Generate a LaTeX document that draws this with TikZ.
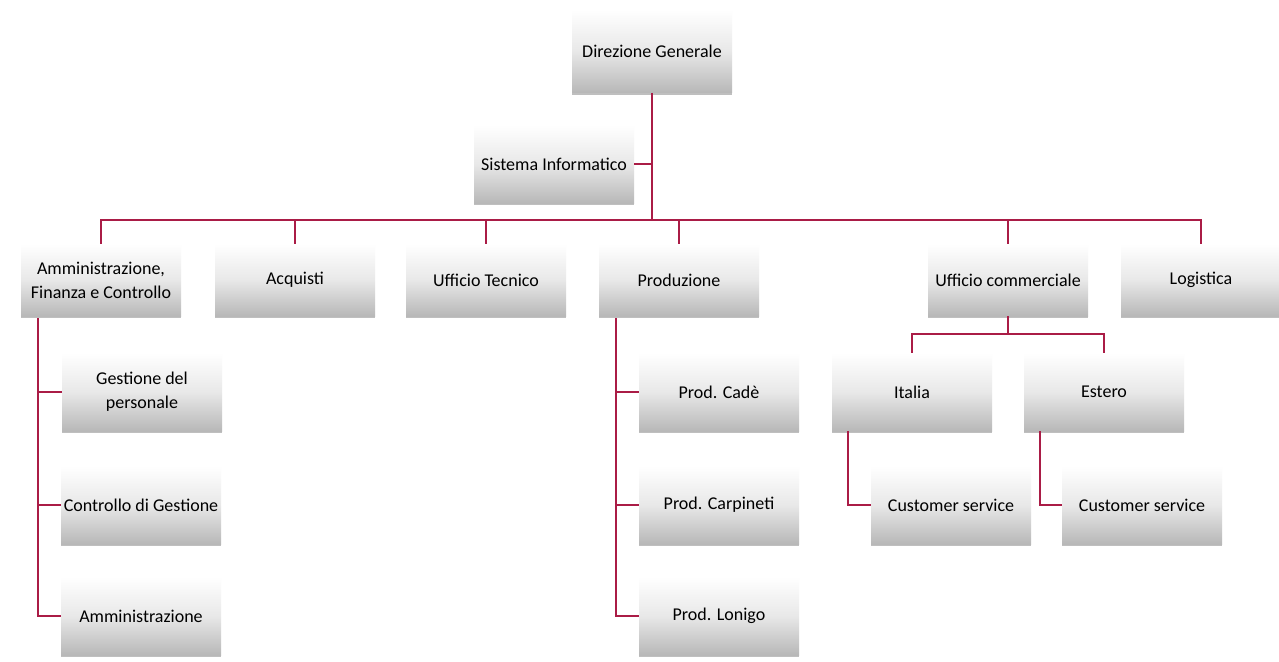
\documentclass[tikz,border=0pt]{standalone}
\usepackage{fontspec}
\setmainfont{Carlito}
\usetikzlibrary{shadows,calc}
\definecolor{linecol}{RGB}{170,28,70}
\tikzset{
  x=1pt, y=-1pt,
  box/.style={minimum width=160pt, minimum height=78pt, inner sep=2pt,
    align=center, font=\fontsize{18}{24}\selectfont,
    top color=white, bottom color=black!28, middle color=black!9,
    drop shadow={shadow xshift=0pt, shadow yshift=-2pt, opacity=0.25, fill=black}},
  rowbox/.style={box, minimum height=72pt},
  conn/.style={draw=linecol, line width=2.8pt}
}
\begin{document}
\begin{tikzpicture}
\fill[white] (0,0) rectangle (1279,661);
\useasboundingbox (0,0) rectangle (1279,661);
% top
\node[box, minimum height=83pt] (dg) at (652,51) {Direzione Generale};
\node[box] (si) at (554,164) {Sistema Informatico};
% row 1
\node[rowbox] (afc) at (101,280) {Amministrazione,\\Finanza e Controllo};
\node[rowbox] (acq) at (295,280) {Acquisti};
\node[rowbox] (ut) at (486,280) {Ufficio Tecnico};
\node[rowbox] (prod) at (679,280) {Produzione};
\node[rowbox] (uc) at (1008,280) {Ufficio commerciale};
\node[rowbox] (log) at (1201,280) {Logistica};
% AFC children
\node[box] (gp) at (142,392) {Gestione del\\personale};
\node[box] (cg) at (141,505) {Controllo di Gestione};
\node[box] (am) at (141,616) {Amministrazione};
% Produzione children
\node[box] (pc) at (719,392) {Prod. Cadè};
\node[box] (pca) at (719,505) {Prod. Carpineti};
\node[box] (pl) at (719,616) {Prod. Lonigo};
% Commerciale children
\node[box] (it) at (912,392) {Italia};
\node[box] (es) at (1104,392) {Estero};
\node[box] (cs1) at (951,505) {Customer service};
\node[box] (cs2) at (1142,505) {Customer service};
% connectors
\coordinate (bar) at (652,220);
\draw[conn] (dg.south) -- (bar);
\draw[conn] (si.east) -- (si.east -| bar);
\draw[conn] (afc.north) |- (bar);
\draw[conn] (log.north) |- (bar);
\foreach \n in {acq,ut,prod,uc} \draw[conn] (\n.north) -- (\n.north |- bar);
\coordinate (afcv) at (38,318);
\draw[conn] (afcv) |- (gp.west);
\draw[conn] (afcv) |- (cg.west);
\draw[conn] (afcv) |- (am.west);
\coordinate (prodv) at (616,318);
\draw[conn] (prodv) |- (pc.west);
\draw[conn] (prodv) |- (pca.west);
\draw[conn] (prodv) |- (pl.west);
\coordinate (ucbar) at (1008,334);
\draw[conn] (uc.south) -- (ucbar);
\draw[conn] (it.north) |- (ucbar);
\draw[conn] (es.north) |- (ucbar);
\coordinate (itv) at (848,431);
\coordinate (esv) at (1040,431);
\draw[conn] (itv) |- (cs1.west);
\draw[conn] (esv) |- (cs2.west);
\end{tikzpicture}
\end{document}
